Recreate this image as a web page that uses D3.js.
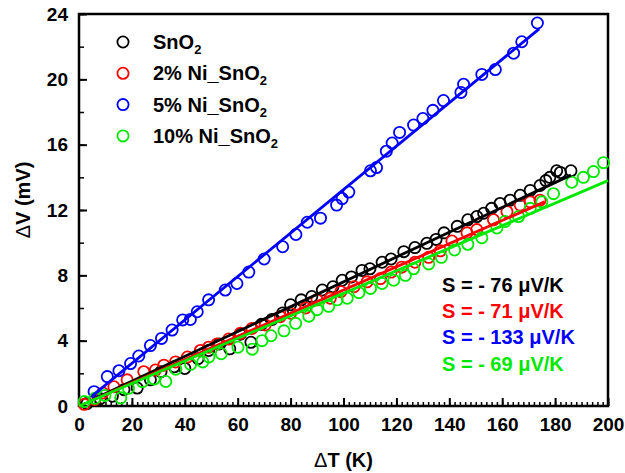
<!DOCTYPE html>
<html>
<head>
<meta charset="utf-8">
<script src="https://cdn.jsdelivr.net/npm/d3@7"></script>
<style>
  html, body { margin: 0; padding: 0; background: #fff; }
  svg { display: block; font-family: "Liberation Sans", Arial, sans-serif; }
</style>
</head>
<body>
<svg id="chart" width="625" height="473"></svg>
<script>
// Thermoelectric voltage vs temperature difference for Ni-doped SnO2 samples
const seriesNames = ["SnO2", "2% Ni_SnO2", "5% Ni_SnO2", "10% Ni_SnO2"];
const seriesColors = ["#000000", "#ff0000", "#0000ff", "#00e800"];

// Measured points [ΔT (K), ΔV (mV)]
const snO2 = [[3,0.15],[8,0.45],[12.6,0.6],[17,1.0],[22,1.1],[27,1.6],[31,2.1],[36,2.4],[40,2.3],[45,2.9],
  [49,3.4],[53,3.8],[57,3.5],[61,4.4],[65,3.9],[69,5.0],[73,5.3],[77,5.7],[80,6.2],[84,6.5],[88,6.7],[92,7.1],
  [96,7.3],[99.5,7.7],[103,7.9],[107,8.3],[110,8.4],[114.6,8.8],[118,9.0],[122.8,9.45],[127,9.7],[131.5,9.96],
  [135,10.2],[138,10.6],[143,11.0],[147,11.4],[150.4,11.6],[153,11.8],[156,12.1],[159.2,12.4],[163,12.6],
  [166.8,12.9],[170.6,13.2],[174.3,13.5],[176.5,13.8],[178,14.0],[180.6,14.4],[182,14.3],[186,14.4]];
const ni2 = [[2,0.1],[6,0.4],[9,0.8],[13.2,1.18],[18.2,1.6],[24.5,2.1],[28.9,2.2],[32.1,2.5],[36.5,2.7],[41,3.0],
  [45.9,3.4],[49,3.6],[52.2,3.8],[56.6,4.1],[61,4.45],[65.4,4.75],[70.4,4.96],[76.1,5.47],[80,5.68],[85.7,6.0],
  [90,6.5],[95,6.6],[99,7.0],[104,7.3],[108.9,7.6],[114,7.8],[118,8.2],[122,8.5],[127,8.8],[132.2,9.1],
  [136.6,9.5],[141,10.1],[146.7,10.6],[150.4,10.8],[156.7,11.4],[161.8,11.9],[166.8,12.3],[170.6,12.5],[174.3,12.6]];
const ni5 = [[5.7,0.88],[10.7,1.8],[15.1,2.16],[19.5,2.6],[22.6,3.06],[27,3.7],[31.2,4.14],[35.2,4.65],[39.2,5.27],
  [42.1,5.3],[44.7,5.77],[49,6.5],[55.3,7.1],[59.7,7.5],[64.2,8.2],[70,9.0],[77,9.75],[82,10.5],[86.3,11.25],
  [91.3,11.5],[97.4,12.3],[99.5,12.7],[102,13.1],[110.2,14.4],[112.5,14.6],[116.2,15.6],[118.4,16.1],[121.2,16.75],
  [126.5,17.2],[130,17.6],[133.8,18.1],[137.8,18.7],[144.4,19.2],[145.4,19.7],[152.3,20.3],[157.4,20.6],
  [164.3,21.6],[167.4,22.3],[173.3,23.45]];
const ni10 = [[2,0.27],[6,0.47],[9.8,0.65],[15.8,0.5],[18.7,1.08],[24,1.49],[28.4,1.65],[32.8,1.5],[36.6,2.25],
  [42.2,2.55],[46.8,2.7],[49.1,3.0],[53.8,3.2],[60.1,3.6],[65.5,3.48],[69.2,4.0],[72.6,4.3],[77.5,4.6],[81.9,5.06],
  [86.9,5.5],[90,5.9],[94.4,6.1],[97.6,6.5],[101.4,6.6],[105.8,6.94],[110.2,7.2],[114.6,7.5],[119,7.7],[123.4,8.0],
  [126.5,8.4],[132.2,8.7],[137,9.1],[142,9.55],[147,9.9],[152.3,10.3],[158,10.9],[161.1,11.3],[166.2,11.6],
  [170.6,12.1],[175,12.5],[179.4,13.0],[186.3,13.7],[190.7,14.0],[194.5,14.35],[198.3,14.9]];

// Linear fits: Seebeck coefficient (μV/K), intercept (mV), fitted ΔT range (K)
const seebeck = [76, 71, 133, 69];
const fitIntercept = [0, 0, -0.05, 0];
const fitRange = [[5, 186], [5, 176], [5, 174], [0, 200]];

const xTicks = [0, 20, 40, 60, 80, 100, 120, 140, 160, 180, 200];
const yTicks = [0, 4, 8, 12, 16, 20, 24];

const allData = [snO2, ni2, ni5, ni10];

const svg = d3.select("#chart");
const m = { left: 79, right: 608, top: 14, bottom: 406 };

const x = d3.scaleLinear().domain([0, 200]).range([m.left, m.right]);
const y = d3.scaleLinear().domain([0, 24]).range([m.bottom, m.top]);

// Minor ticks (inward)
svg.append("g").attr("transform", `translate(0,${m.bottom})`)
  .call(d3.axisBottom(x).tickValues(d3.range(0, 201, 2)).tickSize(-4).tickSizeOuter(0).tickFormat(""))
  .call(g => g.select(".domain").remove())
  .call(g => g.selectAll("line").attr("stroke", "#000").attr("stroke-width", 1.5));
svg.append("g").attr("transform", `translate(${m.left},0)`)
  .call(d3.axisLeft(y).tickValues(d3.range(0, 24.1, 2)).tickSize(-5).tickSizeOuter(0).tickFormat(""))
  .call(g => g.select(".domain").remove())
  .call(g => g.selectAll("line").attr("stroke", "#000").attr("stroke-width", 1.5));

// Major ticks with labels
const xAxis = svg.append("g").attr("transform", `translate(0,${m.bottom})`)
  .call(d3.axisBottom(x).tickValues(xTicks).tickSize(-8).tickSizeOuter(0).tickPadding(12));
const yAxis = svg.append("g").attr("transform", `translate(${m.left},0)`)
  .call(d3.axisLeft(y).tickValues(yTicks).tickSize(-8).tickSizeOuter(0).tickPadding(11));
[xAxis, yAxis].forEach(a => {
  a.select(".domain").remove();
  a.selectAll("line").attr("stroke", "#000").attr("stroke-width", 2);
  a.selectAll("text").attr("font-size", 19).attr("font-weight", "bold").attr("fill", "#000")
    .attr("font-family", "Liberation Sans, Arial, sans-serif");
});

// Frame
svg.append("rect").attr("x", m.left).attr("y", m.top)
  .attr("width", m.right - m.left).attr("height", m.bottom - m.top)
  .attr("fill", "none").attr("stroke", "#000").attr("stroke-width", 2.5);

// Scatter points
allData.forEach((d, i) => {
  svg.append("g").selectAll("circle").data(d).join("circle")
    .attr("cx", p => x(p[0])).attr("cy", p => y(p[1])).attr("r", 5.6)
    .attr("fill", "none").attr("stroke", seriesColors[i]).attr("stroke-width", 1.8);
});

// Fit lines
const line = d3.line().x(p => x(p[0])).y(p => y(p[1]));
seebeck.forEach((s, i) => {
  const pts = fitRange[i].map(t => [t, s / 1000 * t + fitIntercept[i]]);
  svg.append("path").attr("d", line(pts)).attr("fill", "none")
    .attr("stroke", seriesColors[i]).attr("stroke-width", 2.8);
});

// Legend
const legend = svg.append("g");
seriesNames.forEach((name, i) => {
  const cy = 42 + i * 31.3;
  legend.append("circle").attr("cx", 123).attr("cy", cy).attr("r", 5.6)
    .attr("fill", "none").attr("stroke", seriesColors[i]).attr("stroke-width", 1.8);
  const t = legend.append("text").attr("x", 153).attr("y", cy + 7)
    .attr("font-size", 20).attr("font-weight", "bold").attr("fill", "#000");
  t.append("tspan").text(name.slice(0, -1));
  t.append("tspan").attr("font-size", 13).attr("dy", 5).text(name.slice(-1));
});

// Seebeck coefficient labels
seebeck.forEach((s, i) => {
  svg.append("text").attr("x", 442).attr("y", 292 + i * 26.2)
    .attr("font-size", 20).attr("font-weight", "bold").attr("fill", seriesColors[i])
    .text(`S = - ${s} μV/K`);
});

// Axis titles
const xt = svg.append("text").attr("x", (m.left + m.right) / 2).attr("y", 467)
  .attr("text-anchor", "middle").attr("font-size", 20).attr("font-weight", "bold");
xt.append("tspan").attr("font-weight", "normal").text("Δ");
xt.append("tspan").text("T (K)");
const yt = svg.append("text").attr("transform", `translate(30,200) rotate(-90)`)
  .attr("text-anchor", "middle").attr("font-size", 20).attr("font-weight", "bold");
yt.append("tspan").attr("font-weight", "normal").text("Δ");
yt.append("tspan").text("V (mV)");
</script>
</body>
</html>
